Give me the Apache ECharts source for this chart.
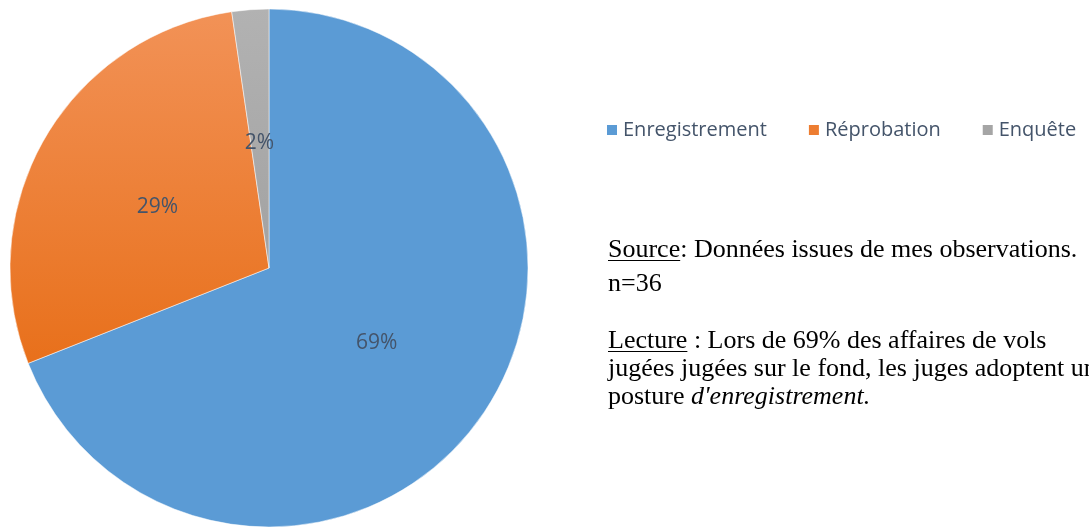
<!DOCTYPE html>
<html>
<head>
<meta charset="utf-8">
<script src="https://cdn.jsdelivr.net/npm/echarts@6/dist/echarts.min.js"></script>
<style>
  html, body { margin: 0; padding: 0; background: #fff; }
  #main { width: 1089px; height: 527px; }
</style>
</head>
<body>
<div id="main"></div>
<script>
// données (en %)
var categories = ['Enregistrement', 'Réprobation', 'Enquête'];
var values = [69.0, 28.7, 2.3];

var serif = '"Liberation Serif", "Times New Roman", serif';
var sans = '"Open Sans", "Noto Sans", sans-serif';
var textSize = 26;

// mesure pour les soulignements
function textWidth(str) {
    var c = document.createElement('canvas').getContext('2d');
    c.font = textSize + 'px ' + serif;
    return c.measureText(str).width;
}

var colors = [
    '#5B9BD5',
    new echarts.graphic.LinearGradient(0, 0, 0, 1, [
        { offset: 0, color: '#F29257' },
        { offset: 1, color: '#E8701B' }
    ]),
    new echarts.graphic.LinearGradient(0, 0, 0, 1, [
        { offset: 0, color: '#B2B2B2' },
        { offset: 1, color: '#A2A2A2' }
    ])
];
var legendColors = ['#5B9BD5', '#ED7D31', '#A5A5A5'];
var labelOffsets = [[-2, 1], [3, 5], [0, 7]];

var myChart = echarts.init(document.getElementById('main'));

var textX = 608;
var lines = [
    { y: 250, rich: '{u|Source}: Données issues de mes observations.', ul: 'Source' },
    { y: 284, rich: 'n=36' },
    { y: 341, rich: '{u|Lecture} : Lors de 69% des affaires de vols', ul: 'Lecture' },
    { y: 369, rich: 'jugées jugées sur le fond, les juges adoptent une' },
    { y: 397, rich: 'posture {i|d\'enregistrement.}' }
];

var graphics = [];
lines.forEach(function (l) {
    graphics.push({
        type: 'text',
        x: textX,
        y: l.y,
        style: {
            text: l.rich,
            fill: '#000',
            font: textSize + 'px ' + serif,
            verticalAlign: 'middle',
            rich: {
                u: { fontFamily: serif, fontSize: textSize, fill: '#000' },
                i: { fontFamily: serif, fontSize: textSize, fontStyle: 'italic', fill: '#000' }
            }
        }
    });
    if (l.ul) {
        graphics.push({
            type: 'line',
            shape: { x1: textX, y1: l.y + 10.5, x2: textX + textWidth(l.ul), y2: l.y + 10.5 },
            style: { stroke: '#000', lineWidth: 1 }
        });
    }
});

var option = {
    backgroundColor: '#fff',
    animation: false,
    legend: {
        left: 605,
        top: 120,
        width: 484,
        padding: 0,
        itemWidth: 12,
        itemHeight: 12,
        itemGap: 40,
        icon: 'rect',
        textStyle: { color: '#44546A', fontSize: 20, fontFamily: sans },
        data: categories.map(function (c, i) {
            return { name: c, itemStyle: { color: legendColors[i] } };
        })
    },
    graphic: graphics,
    series: [{
        type: 'pie',
        center: [269, 268],
        radius: [0, 259],
        startAngle: 90,
        clockwise: true,
        label: {
            show: true,
            position: 'inside',
            color: '#44546A',
            fontSize: 21,
            fontFamily: sans,
            formatter: function (p) { return Math.round(p.percent) + '%'; }
        },
        labelLine: { show: false },
        itemStyle: { borderColor: '#fff', borderWidth: 0.5 },
        emphasis: { disabled: true },
        data: categories.map(function (c, i) {
            return {
                name: c,
                value: values[i],
                itemStyle: { color: colors[i] },
                label: { offset: labelOffsets[i] }
            };
        })
    }]
};
myChart.setOption(option);
</script>
</body>
</html>
